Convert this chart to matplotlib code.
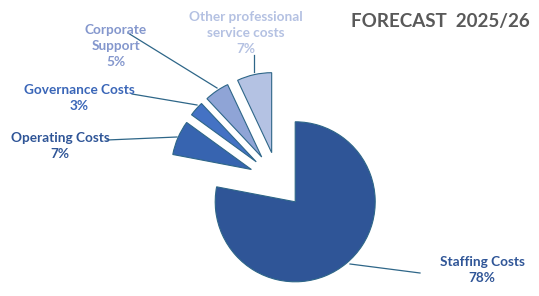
import numpy as np
import matplotlib
matplotlib.use("Agg")
import matplotlib.pyplot as plt

# data
labels = ["Staffing Costs", "Operating Costs", "Governance Costs",
          "Corporate\nSupport", "Other professional\nservice costs"]
shares = [78, 7, 3, 5, 7]
colors = ["#2F5597", "#3764B0", "#4472C4", "#8FA4D6", "#B4C2E3"]
text_colors = ["#2F5597", "#2F5597", "#3A66B8", "#8497CD", "#B4C1E2"]
title = "FORECAST  2025/26"

W, H = 539, 296
fig = plt.figure(figsize=(W / 100, H / 100), dpi=100)
ax = fig.add_axes([0, 0, 1, 1])

# pie geometry in pixel units (y up)
cx, cy, r = 278, H - 181, 80
wedges, _ = ax.pie(shares, colors=colors, startangle=90, counterclock=False,
                   radius=r, center=(cx, cy), explode=[27, 29, 29, 29, 29],
                   wedgeprops=dict(edgecolor="#2E6688", linewidth=0.8),
                   frame=True)
ax.set_xlim(0, W)
ax.set_ylim(0, H)
ax.set_aspect("equal")
ax.axis("off")

font = dict(family="Lato", fontweight="bold", fontsize=9.8)
line_c = "#2E6688"

def yy(v):
    return H - v

# label block centres, pixel coords from top
lab_pos = [(482, 270), (60, 146), (79, 98), (116, 46), (246, 33)]
for (x, y), lab, s, tc in zip(lab_pos, labels, shares, text_colors):
    ax.text(x, yy(y), f"{lab}\n{s}%", ha="center", va="center",
            color=tc, linespacing=1.4, **font)

# leader lines
ax.plot([350, 420], [yy(264), yy(273)], color=line_c, lw=0.9)
ax.plot([107, 177], [yy(140), yy(137)], color=line_c, lw=0.9)
ax.plot([132, 197], [yy(94), yy(105)], color=line_c, lw=0.9)
ax.plot([128, 217], [yy(33), yy(88)], color=line_c, lw=0.9)
ax.plot([254, 254], [yy(55), yy(72)], color=line_c, lw=0.9)

ax.text(440, yy(22), title, ha="center", va="center", color="#595959",
        family="Lato", fontweight="bold", fontsize=13.5)

fig.savefig("out.png", dpi=100)
